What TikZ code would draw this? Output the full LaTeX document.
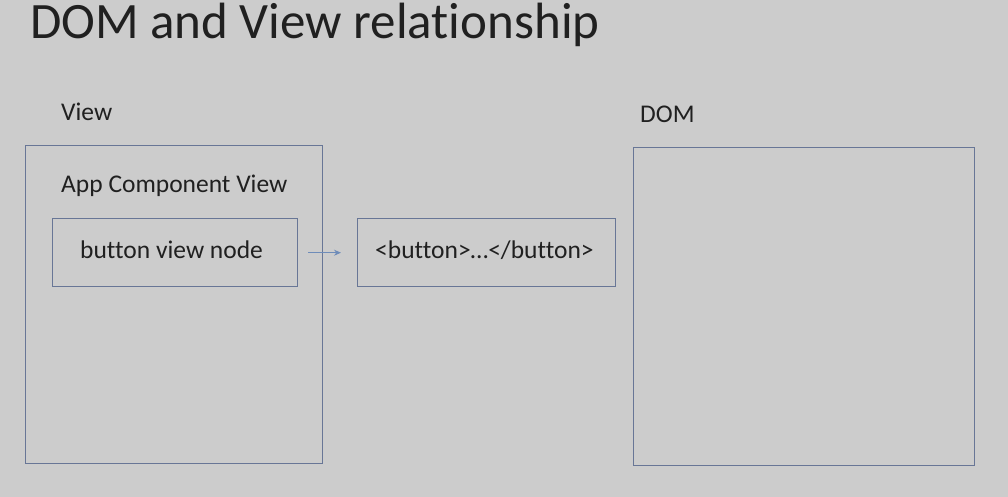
\documentclass[tikz,border=0pt]{standalone}
\usepackage{fontspec}
\setmainfont[Ligatures={NoCommon}]{Carlito}
\usepackage{tikz}
\usetikzlibrary{arrows.meta}
\definecolor{bgGrey}{RGB}{204,204,204}
\definecolor{boxLine}{RGB}{104,118,150}
\definecolor{arrowBlue}{RGB}{110,140,185}
\definecolor{txtGrey}{RGB}{32,32,32}
\tikzset{
  frame/.style={draw=boxLine, line width=1.4pt, anchor=north west, inner sep=0pt},
  label/.style={anchor=base west, inner sep=0pt, text=txtGrey, font=\fontsize{25.5}{30}\selectfont}
}

\begin{document}
\begin{tikzpicture}[x=1pt,y=-1pt]
  \fill[bgGrey] (0,0) rectangle (1008,497);
  \useasboundingbox (0,0) rectangle (1008,497);
  \node[anchor=base west, inner sep=0pt, text=txtGrey, font=\fontsize{51}{60}\selectfont] (title) at (30,39) {DOM and View relationship};
 % left side: the view tree
  \node[label] (viewlbl) at (61,121) {View};
  \node[frame, minimum width=297pt, minimum height=318pt] (viewbox) at (25,145) {};
  \node[label] (applbl) at (61,192) {App Component View};
  \node[frame, minimum width=245pt, minimum height=68pt] (btnview) at (52,218) {};
  \node[label] (btnviewlbl) at (80,258) {button view node};
 % middle: the rendered element
  \node[frame, minimum width=258pt, minimum height=68pt] (btntag) at (357,218) {};
  \node[label] (btntaglbl) at (375,258) {<button>\ldots</button>};
 % right side: the DOM
  \node[label] (domlbl) at (640,123) {DOM};
  \node[frame, minimum width=341pt, minimum height=318pt] (dombox) at (633,147) {};
  \draw[draw=arrowBlue, line width=1pt, -{Stealth[length=7pt,width=6pt]}, shorten <=10pt, shorten >=16pt] (btnview.east) -- (btntag.west);
\end{tikzpicture}
\end{document}
